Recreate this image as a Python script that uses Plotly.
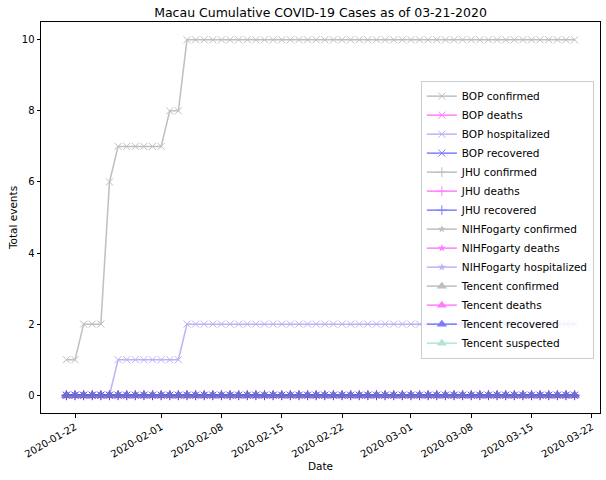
import pandas as pd
import plotly.graph_objects as go

dates = pd.date_range("2020-01-21", "2020-03-20", freq="D")
n = len(dates)

bop_confirmed = [1, 1, 2, 2, 2, 6, 7, 7, 7, 7, 7, 7, 8, 8] + [10] * (n - 14)
bop_hospitalized = [0, 0, 0, 0, 0, 0, 1, 1, 1, 1, 1, 1, 1, 1] + [2] * (n - 14)
zeros = [0] * n

series = [
    ("BOP confirmed", bop_confirmed, "gray", "x-thin"),
    ("BOP deaths", zeros, "magenta", "x-thin"),
    ("BOP hospitalized", bop_hospitalized, "mediumslateblue", "x-thin"),
    ("BOP recovered", zeros, "blue", "x-thin"),
    ("JHU confirmed", zeros, "gray", "cross-thin"),
    ("JHU deaths", zeros, "magenta", "cross-thin"),
    ("JHU recovered", zeros, "blue", "cross-thin"),
    ("NIHFogarty confirmed", zeros, "gray", "star"),
    ("NIHFogarty deaths", zeros, "magenta", "star"),
    ("NIHFogarty hospitalized", zeros, "mediumslateblue", "star"),
    ("Tencent confirmed", zeros, "gray", "triangle-up"),
    ("Tencent deaths", zeros, "magenta", "triangle-up"),
    ("Tencent recovered", zeros, "blue", "triangle-up"),
    ("Tencent suspected", zeros, "mediumaquamarine", "triangle-up"),
]

tick_vals = ["2020-01-22", "2020-02-01", "2020-02-08", "2020-02-15", "2020-02-22",
             "2020-03-01", "2020-03-08", "2020-03-15", "2020-03-22"]

fig = go.Figure()
for name, vals, color, sym in series:
    thin = sym.endswith("thin")
    size = {"x-thin": 7, "cross-thin": 7, "star": 6, "triangle-up": 9}[sym]
    fig.add_trace(go.Scatter(
        x=dates, y=vals, name=name, mode="lines+markers", opacity=0.5,
        line=dict(color=color, width=1.5),
        marker=dict(symbol=sym, size=size, color=color,
                    line=dict(color=color, width=1 if thin else 0)),
    ))

font = "DejaVu Sans"
fig.update_layout(
    width=606, height=480,
    margin=dict(l=41, r=6, t=22, b=67),
    paper_bgcolor="white", plot_bgcolor="white",
    font=dict(family=font, size=10, color="black"),
    title=dict(text="Macau Cumulative COVID-19 Cases as of 03-21-2020",
               x=(41 + 600) / 2 / 606, xanchor="center", y=1 - 13 / 480, yanchor="middle",
               font=dict(size=12.5, family=font)),
    showlegend=True,
    legend=dict(x=0.989, xanchor="right", y=0.85, yanchor="top",
                bgcolor="rgba(255,255,255,0.8)", bordercolor="#cccccc", borderwidth=1,
                font=dict(size=10.5, family=font), tracegroupgap=0),
)
fig.update_xaxes(
    type="date", range=["2020-01-18 01:12", "2020-03-22 22:48"],
    tickvals=tick_vals, ticktext=tick_vals, tickangle=-30, automargin=False,
    showgrid=False, zeroline=False, showline=True, mirror=True,
    linecolor="black", linewidth=1, ticks="outside", ticklen=3.5, tickcolor="black",
    title=dict(text="Date", font=dict(size=10.5), standoff=3),
)
fig.update_yaxes(
    range=[-0.5, 10.5], tickvals=[0, 2, 4, 6, 8, 10], automargin=False,
    showgrid=False, zeroline=False, showline=True, mirror=True,
    linecolor="black", linewidth=1, ticks="outside", ticklen=3.5, tickcolor="black",
    title=dict(text="Total events", font=dict(size=10.5), standoff=2),
)

fig.write_html("out.html", config={"displayModeBar": False},
               post_script="document.body.style.margin='0';document.body.style.overflow='hidden';")
